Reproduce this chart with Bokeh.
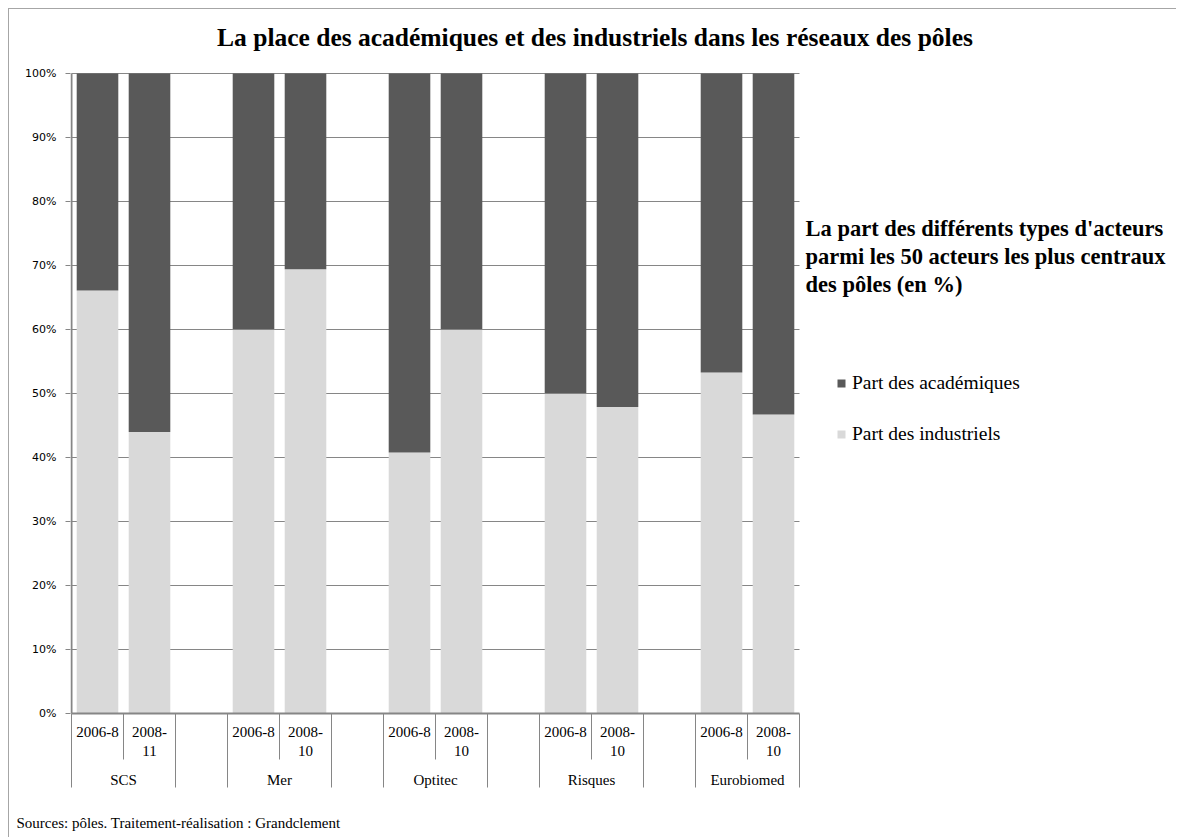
from bokeh.plotting import figure
from bokeh.models import (Range1d, FixedTicker, PrintfTickFormatter, Label,
                          Legend, LegendItem, ColumnDataSource, Title)
from bokeh.core.properties import value
from bokeh.embed import file_html
from bokeh.resources import INLINE

# ---------------- data ----------------
title_text = "La place des académiques et des industriels dans les réseaux des pôles"
side_title = ["La part des différents types d'acteurs",
              "parmi les 50 acteurs les plus centraux",
              "des pôles (en %)"]
source_text = "Sources: pôles. Traitement-réalisation : Grandclement"

groups = ["SCS", "Mer", "Optitec", "Risques", "Eurobiomed"]
periods = [["2006-8", "2008-\n11"],
           ["2006-8", "2008-\n10"],
           ["2006-8", "2008-\n10"],
           ["2006-8", "2008-\n10"],
           ["2006-8", "2008-\n10"]]
industriels = [66.1, 44.0, 60.0, 69.4, 40.8, 60.0, 50.0, 47.9, 53.3, 46.7]
academiques = [33.9, 56.0, 40.0, 30.6, 59.2, 40.0, 50.0, 52.1, 46.7, 53.3]
series_names = ["Part des académiques", "Part des industriels"]
series_colors = ["#595959", "#d9d9d9"]
y_ticks = [0, 10, 20, 30, 40, 50, 60, 70, 80, 90, 100]

# ---------------- layout helpers (page pixels) ----------------
ORG = 9                 # canvas origin on the page (8 margin + 1 border)
W, H = 1177 - ORG, 838 - ORG
SLOT = 52.0             # px per category slot
PX = 6.4                # px per percent
X0 = 71.0               # page x of slot 0 left edge
Y0 = 713.0              # page y of 0 %
FRAME_L, FRAME_R = 70, 1177
FRAME_T, FRAME_B = ORG, 805

def dx(px):
    return (px - X0) / SLOT

def dy(py):
    return (Y0 - py) / PX

stride = 3
n_slots = len(groups) * stride - 1

p = figure(width=W, height=H, output_backend="svg", toolbar_location=None,
           x_range=Range1d(dx(FRAME_L), dx(FRAME_R)),
           y_range=Range1d(dy(FRAME_B), dy(FRAME_T)),
           x_axis_location=None,
           min_border_left=FRAME_L - ORG, min_border_top=FRAME_T - ORG,
           min_border_right=0, min_border_bottom=838 - FRAME_B)
p.title.visible = False
p.styles = {"margin-left": "8px", "margin-top": "8px",
            "border-top": "1px solid #a6a6a6", "border-left": "1px solid #a6a6a6"}
p.outline_line_color = None
p.background_fill_color = "white"
p.border_fill_color = "white"
p.xgrid.visible = False
p.ygrid.visible = False

# bars
xs, tick_l1, tick_l2 = [], [], []
for g, grp in enumerate(groups):
    for j, per in enumerate(periods[g]):
        xs.append(g * stride + j + 0.5)
        parts = per.split("\n")
        tick_l1.append(parts[0])
        tick_l2.append(parts[1] if len(parts) > 1 else "")

# gridlines (plot area only)
grid_y = [t for t in y_ticks if t > 0]
p.segment(x0=[0] * len(grid_y), y0=grid_y, x1=[n_slots] * len(grid_y), y1=grid_y,
          line_color="#868686", line_width=1)

src = ColumnDataSource(dict(x=xs, ind=industriels, acad=academiques))
rs = p.vbar_stack(["ind", "acad"], x="x", width=0.8, source=src,
                  color=[series_colors[1], series_colors[0]], line_color=None)

# y axis
yax = p.yaxis[0]
yax.ticker = FixedTicker(ticks=y_ticks)
yax.formatter = PrintfTickFormatter(format="%d%%")
yax.axis_line_color = None
yax.major_tick_in = 0
yax.major_tick_out = 5
yax.major_tick_line_color = "#868686"
yax.minor_tick_line_color = None
yax.major_label_text_font = "DejaVu Sans"
yax.major_label_text_font_size = "11px"
yax.major_label_text_color = "#000000"
yax.major_label_standoff = 9

# axis lines
p.segment(x0=[0, 0], y0=[0, 0], x1=[n_slots, 0], y1=[0, y_ticks[-1]],
          line_color="#868686", line_width=2)

# category separators
short_x = [g * stride + 1 for g in range(len(groups))]
full_x = sorted([g * stride for g in range(len(groups))] +
                [g * stride + 2 for g in range(len(groups))])
p.segment(x0=short_x, y0=[0] * len(short_x), x1=short_x,
          y1=[dy(759)] * len(short_x), line_color="#868686", line_width=1)
p.segment(x0=full_x, y0=[0] * len(full_x), x1=full_x,
          y1=[dy(787)] * len(full_x), line_color="#868686", line_width=1)

# category labels
serif = value("Liberation Serif")
p.text(x=xs, y=[dy(731)] * len(xs), text=tick_l1, text_font=serif,
       text_font_size="15px", text_align="center", text_baseline="alphabetic",
       text_color="#000000")
p.text(x=xs, y=[dy(750)] * len(xs), text=tick_l2, text_font=serif,
       text_font_size="15px", text_align="center", text_baseline="alphabetic",
       text_color="#000000")
gx = [g * stride + 1 for g in range(len(groups))]
p.text(x=gx, y=[dy(779)] * len(gx), text=groups, text_font=serif,
       text_font_size="15px", text_align="center", text_baseline="alphabetic",
       text_color="#000000")

# title
p.add_layout(Label(x=dx(594.5), y=dy(37), text=title_text, text_align="center",
                   text_baseline="alphabetic", text_font="Liberation Serif",
                   text_font_style="bold", text_font_size="25.5px",
                   text_color="#000000"))

# side title
for line, by in zip(side_title, [228.0, 256.0, 284.0]):
    p.add_layout(Label(x=dx(805), y=dy(by), text=line, text_align="left",
                       text_baseline="alphabetic", text_font="Liberation Serif",
                       text_font_style="bold", text_font_size="22.5px",
                       text_color="#000000"))

# source (below panel)
p.add_layout(Title(text=source_text, align="left", offset=16 - FRAME_L,
                   text_font="Liberation Serif", text_font_style="normal",
                   text_font_size="15px", text_color="#000000", standoff=15),
             "below")

# legend
legend = Legend(items=[LegendItem(label=series_names[0], renderers=[rs[1]]),
                       LegendItem(label=series_names[1], renderers=[rs[0]])],
                location=(836 - FRAME_L, FRAME_B - 446),
                glyph_width=10, glyph_height=10, label_height=24,
                label_standoff=6, spacing=27, padding=0, margin=0,
                border_line_color=None, background_fill_alpha=0,
                label_text_font="Liberation Serif", label_text_font_size="19.5px",
                label_text_color="#000000")
p.add_layout(legend)

open("out.html", "w").write(file_html(p, INLINE))
